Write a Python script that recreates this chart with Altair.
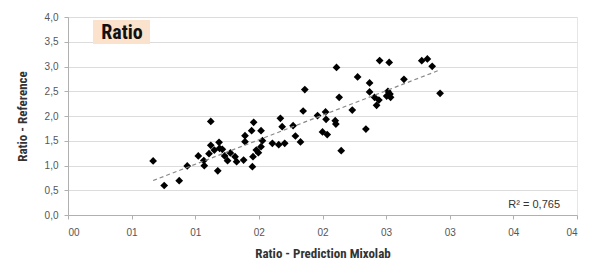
import altair as alt
import pandas as pd

# Data
pred = [0.669, 0.756, 0.874, 0.937, 1.024, 1.067, 1.071, 1.122, 1.122, 1.108,
        1.150, 1.187, 1.191, 1.213, 1.177, 1.231, 1.254, 1.276, 1.313, 1.325,
        1.380, 1.459, 1.391, 1.443, 1.517, 1.391, 1.528, 1.517, 1.480, 1.496,
        1.454, 1.449, 1.606, 1.656, 1.703, 1.669, 1.683, 1.769, 1.787, 1.827,
        1.848, 1.961, 2.024, 2.028, 2.000, 2.037, 2.110, 2.449, 2.524, 2.780,
        2.824, 2.862, 2.276, 2.370, 2.640, 1.861, 2.370, 2.131, 2.409, 2.443,
        2.425, 2.514, 2.530, 2.504, 2.535, 2.924, 2.234, 2.100, 2.105, 2.341,
        2.147]
ref = [1.091, 0.596, 0.693, 0.990, 1.192, 1.101, 0.996, 1.889, 1.408, 1.238,
       1.313, 1.469, 1.347, 1.327, 0.893, 1.192, 1.097, 1.253, 1.178, 1.077,
       1.111, 1.873, 1.602, 1.703, 1.703, 1.481, 1.501, 1.380, 1.313, 1.259,
       1.178, 0.976, 1.448, 1.420, 1.448, 1.954, 1.784, 1.804, 1.596, 1.475,
       2.101, 2.010, 2.081, 1.933, 1.677, 1.626, 2.980, 3.121, 3.081, 3.117,
       3.152, 3.004, 2.788, 2.667, 2.741, 2.535, 2.485, 2.378, 2.378, 2.323,
       2.216, 2.499, 2.444, 2.404, 2.378, 2.459, 2.121, 1.905, 1.838, 1.737,
       1.299]

x_ticks = [0.0, 0.5, 1.0, 1.5, 2.0, 2.5, 3.0, 3.5, 4.0]
x_tick_labels = ["00", "01", "01", "02", "02", "03", "03", "04", "04"]
y_ticks = [0.0, 0.5, 1.0, 1.5, 2.0, 2.5, 3.0, 3.5, 4.0]

title_text = "Ratio"
r2_text = "R² = 0,765"
x_title = "Ratio - Prediction Mixolab"
y_title = "Ratio - Reference"

df = pd.DataFrame({"pred": pred, "ref": ref})

W, H = 509, 198
narrow = "Liberation Sans Narrow, Roboto Condensed, Arial Narrow, Liberation Sans, sans-serif"
label_font = "Liberation Sans, Arial, sans-serif"

lbl_arr = "[" + ",".join("'%s'" % s for s in x_tick_labels) + "]"

xscale = alt.Scale(domain=[0, 4], nice=False, zero=False)
yscale = alt.Scale(domain=[0, 4], nice=False, zero=False)

x_axis = alt.Axis(values=x_ticks, labelExpr=lbl_arr + "[round(datum.value*2)]",
                  grid=False, domain=True, domainColor="#b0b0b0", tickColor="#b0b0b0",
                  tickSize=4, labelPadding=8, labelColor="#555555", labelFontSize=10,
                  labelFont=label_font, labelOverlap=False,
                  title=x_title, titleFont=narrow, titleFontSize=13,
                  titleFontWeight="bold", titleColor="#333333", titleY=38,
                  titleBaseline="middle")
y_axis = alt.Axis(values=y_ticks, labelExpr="replace(format(datum.value,'.1f'),'.',',')",
                  grid=True, gridColor="#dcdcdc", gridWidth=1,
                  domain=True, domainColor="#b0b0b0", tickColor="#b0b0b0",
                  tickSize=4, labelPadding=6, labelColor="#555555", labelFontSize=10,
                  labelFont=label_font, labelOverlap=False,
                  title=y_title, titleFont=narrow, titleFontSize=13,
                  titleFontWeight="bold", titleColor="#333333", titleX=-46, titleY=H / 2,
                  titleAngle=-90, titleAlign="center", titleBaseline="middle")

base = alt.Chart(df)

points = base.mark_point(shape="diamond", filled=True, color="black", opacity=1, size=60).encode(
    x=alt.X("pred:Q", scale=xscale, axis=x_axis),
    y=alt.Y("ref:Q", scale=yscale, axis=y_axis),
)

trend = base.transform_regression("pred", "ref").mark_line(
    color="#8a8a8a", strokeWidth=1.2, strokeDash=[4, 3]
).encode(x=alt.X("pred:Q", scale=xscale, axis=x_axis),
         y=alt.Y("ref:Q", scale=yscale, axis=y_axis))

one = pd.DataFrame({"t": [title_text]})
box = alt.Chart(one).mark_rect(color="#fbe2cc").encode(
    x=alt.value(25), x2=alt.value(82), y=alt.value(3), y2=alt.value(27)
)
ttl = alt.Chart(one).mark_text(font=narrow, fontSize=20, fontWeight="bold", color="#111111",
                               align="center", baseline="middle").encode(
    x=alt.value(54), y=alt.value(16), text="t:N"
)
r2 = alt.Chart(pd.DataFrame({"t": [r2_text]})).mark_text(
    font=label_font, fontSize=11, color="#333333", align="right", baseline="middle"
).encode(x=alt.value(492), y=alt.value(188), text="t:N")

chart = alt.layer(points, trend, box, ttl, r2).properties(
    width=W, height=H,
    autosize=alt.AutoSizeParams(type="none"),
    padding={"left": 60, "top": 9, "right": 5, "bottom": 50},
    background="white",
).configure_view(stroke="#e6e6e6")

chart.save("out.html", embed_options={"renderer": "svg", "actions": False})
